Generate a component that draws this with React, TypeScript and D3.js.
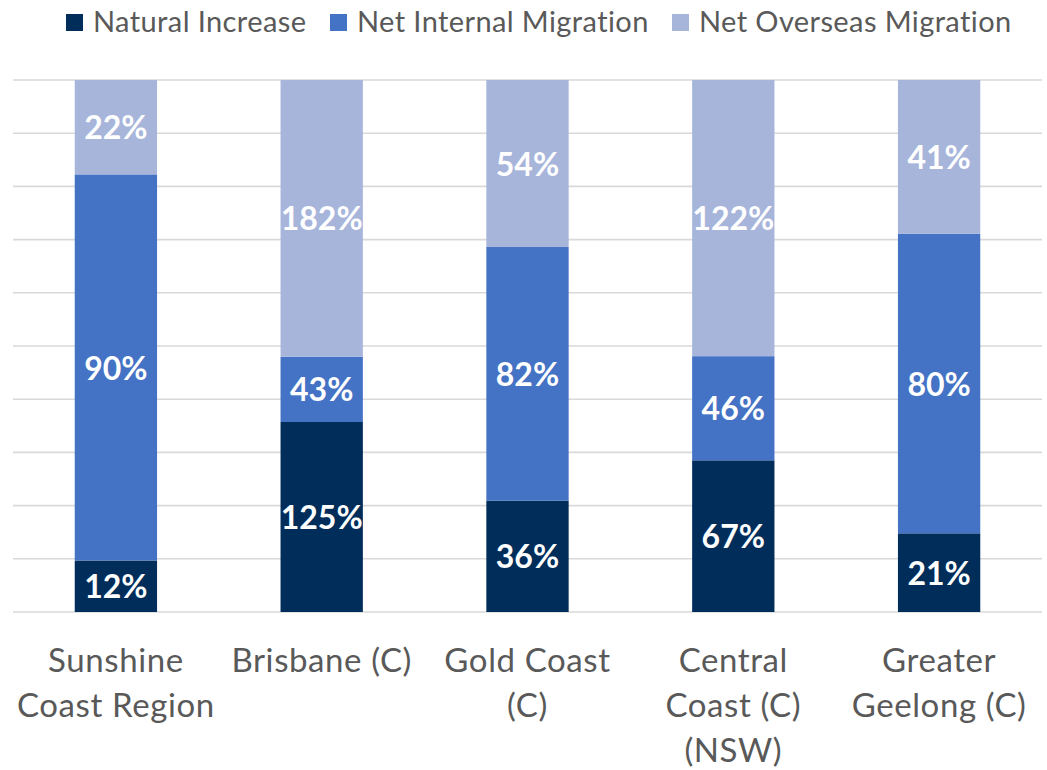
import React from "react";
import * as d3 from "d3";

const categories = [
  "Sunshine Coast Region",
  "Brisbane (C)",
  "Gold Coast (C)",
  "Central Coast (C) (NSW)",
  "Greater Geelong (C)",
];
const categoryLines = [
  ["Sunshine", "Coast Region"],
  ["Brisbane (C)"],
  ["Gold Coast", "(C)"],
  ["Central", "Coast (C)", "(NSW)"],
  ["Greater", "Geelong (C)"],
];
const seriesNames = ["Natural Increase", "Net Internal Migration", "Net Overseas Migration"];
const naturalIncrease = [12, 125, 36, 67, 21];
const netInternal = [90, 43, 82, 46, 80];
const netOverseas = [22, 182, 54, 122, 41];
const gridTicks = [0, 0.1, 0.2, 0.3, 0.4, 0.5, 0.6, 0.7, 0.8, 0.9, 1];

const colors = ["#002D5A", "#4472C4", "#A7B5DB"];
const FONT = "Lato, 'Open Sans', sans-serif";

export default function App() {
  const W = 1047;
  const H = 770;
  const keys = ["nat", "int", "ovs"];
  const rows = categories.map((c, i) => ({
    cat: c,
    nat: naturalIncrease[i],
    int: netInternal[i],
    ovs: netOverseas[i],
  }));
  const stack = d3.stack<any>().keys(keys).offset(d3.stackOffsetExpand);
  const layers = stack(rows);

  const x = d3.scaleBand<string>().domain(categories).range([13, 1042]).paddingInner(0.6).paddingOuter(0.3);
  const y = d3.scaleLinear().domain([0, 1]).range([612, 80]);

  const legendItems = [
    { sx: 66, tx: 93 },
    { sx: 330, tx: 357 },
    { sx: 672, tx: 699 },
  ];

  return (
    <svg
      width={W}
      height={H}
      style={{ position: "absolute", left: 0, top: 0, background: "#fff" }}
      fontFamily={FONT}
    >
      <rect width={W} height={H} fill="#fff" />
      {gridTicks.map((t) => (
        <line key={t} x1={13} x2={1042} y1={y(t)} y2={y(t)} stroke="#D9D9D9" strokeWidth={1.6} />
      ))}
      {layers.map((layer, li) => (
        <g key={layer.key} fill={colors[li]}>
          {layer.map((d, i) => (
            <rect
              key={i}
              x={x(categories[i])}
              width={x.bandwidth()}
              y={y(d[1])}
              height={y(d[0]) - y(d[1])}
            />
          ))}
        </g>
      ))}
      {layers.map((layer, li) => (
        <g key={"l" + layer.key}>
          {layer.map((d, i) => (
            <text
              key={i}
              x={(x(categories[i]) as number) + x.bandwidth() / 2}
              y={(y(d[0]) + y(d[1])) / 2}
              dy="0.38em"
              textAnchor="middle"
              fill="#fff"
              fontWeight="bold"
              fontSize={32}
            >
              {(d.data as any)[layer.key] + "%"}
            </text>
          ))}
        </g>
      ))}
      {categoryLines.map((lines, i) => (
        <text
          key={i}
          x={(x(categories[i]) as number) + x.bandwidth() / 2}
          y={671}
          textAnchor="middle"
          fill="#595959"
          fontSize={33}
          letterSpacing={0.6}
        >
          {lines.map((ln, j) => (
            <tspan key={j} x={(x(categories[i]) as number) + x.bandwidth() / 2} y={672 + j * 45}>
              {ln}
            </tspan>
          ))}
        </text>
      ))}
      {seriesNames.map((s, i) => (
        <g key={s}>
          <rect x={legendItems[i].sx} y={14} width={17} height={17} fill={colors[i]} />
          <text x={legendItems[i].tx} y={32} fill="#595959" fontSize={29} letterSpacing={0.4}>
            {s}
          </text>
        </g>
      ))}
    </svg>
  );
}
